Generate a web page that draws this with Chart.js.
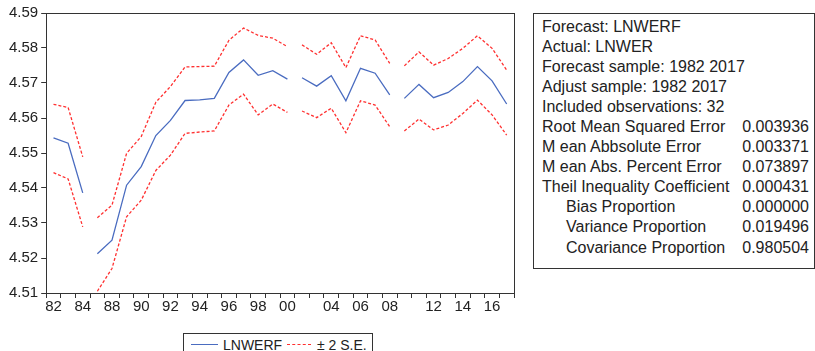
<!DOCTYPE html>
<html lang="en">
<head>
<meta charset="UTF-8">
<title>LNWERF forecast</title>
<style>
  body {
    margin: 0;
    background: #fff;
    font-family: Arial, "Liberation Sans", sans-serif;
    color: #222;
  }
  #wrap {
    position: absolute;
    left: 0;
    top: 0;
    width: 525px;
    height: 325px;
  }
  #stats {
    position: absolute;
    left: 533px;
    top: 13px;
    width: 282px;
    height: 256px;
    box-sizing: border-box;
    border: 1px solid #333;
    padding: 2.5px 5px 0 8px;
    font-size: 16px;
  }
  #stats table { border-collapse: collapse; width: 100%; }
  #stats td { padding: 0; line-height: 20.1px; white-space: nowrap; }
  #stats td.v { text-align: right; }
  #stats td.ind { padding-left: 24px; }
  #legend {
    position: absolute;
    left: 183px;
    top: 333px;
    width: 190px;
    height: 30px;
    box-sizing: border-box;
    border: 1px solid #333;
    font-size: 14px;
  }
  #legend span { position: absolute; top: 3px; white-space: nowrap; }
  #legend i { position: absolute; top: 10px; height: 0; }
</style>
</head>
<body>
<div id="wrap"><canvas id="myChart"></canvas></div>

<div id="stats">
  <table>
    <tr><td colspan="2">Forecast: LNWERF</td></tr>
    <tr><td colspan="2">Actual: LNWER</td></tr>
    <tr><td colspan="2">Forecast sample: 1982 2017</td></tr>
    <tr><td colspan="2">Adjust sample: 1982 2017</td></tr>
    <tr><td colspan="2">Included observations: 32</td></tr>
    <tr><td>Root Mean Squared Error</td><td class="v">0.003936</td></tr>
    <tr><td>M ean Abbsolute Error</td><td class="v">0.003371</td></tr>
    <tr><td>M ean Abs. Percent Error</td><td class="v">0.073897</td></tr>
    <tr><td>Theil Inequality Coefficient</td><td class="v">0.000431</td></tr>
    <tr><td class="ind">Bias Proportion</td><td class="v">0.000000</td></tr>
    <tr><td class="ind">Variance Proportion</td><td class="v">0.019496</td></tr>
    <tr><td class="ind">Covariance Proportion</td><td class="v">0.980504</td></tr>
  </table>
</div>

<div id="legend">
  <i style="left:7px;width:27px;border-top:1.3px solid #4a6cc0;"></i>
  <span style="left:39px;">LNWERF</span>
  <i style="left:103px;width:24px;border-top:1.3px dashed #ff3030;"></i>
  <span style="left:133px;">&plusmn; 2 S.E.</span>
</div>

<script src="https://cdn.jsdelivr.net/npm/chart.js"></script>
<script>
// observations included in the graph (1985, 1986, 2001, 2009 are absent)
const years = [1982, 1983, 1984, 1987, 1988, 1989, 1990, 1991, 1992, 1993, 1994,
               1995, 1996, 1997, 1998, 1999, 2000, 2002, 2003, 2004, 2005, 2006,
               2007, 2008, 2010, 2011, 2012, 2013, 2014, 2015, 2016, 2017];

const forecast = [4.5543, 4.5528, 4.5386, 4.5212, 4.5251, 4.5408, 4.5461, 4.5550,
                  4.5593, 4.5650, 4.5652, 4.5656, 4.5730, 4.5766, 4.5722, 4.5735,
                  4.5711, 4.5715, 4.5691, 4.5721, 4.5649, 4.5742, 4.5728, 4.5666,
                  4.5656, 4.5696, 4.5658, 4.5673, 4.5704, 4.5747, 4.5706, 4.5640];

const upper = [4.5639, 4.5630, 4.5489, 4.5315, 4.5351, 4.5499, 4.5547, 4.5645,
               4.5690, 4.5746, 4.5747, 4.5748, 4.5822, 4.5857, 4.5836, 4.5828,
               4.5804, 4.5809, 4.5782, 4.5815, 4.5744, 4.5835, 4.5823, 4.5756,
               4.5749, 4.5789, 4.5751, 4.5770, 4.5799, 4.5835, 4.5799, 4.5737];

const lower = [4.5444, 4.5426, 4.5289, 4.5105, 4.5170, 4.5318, 4.5365, 4.5450,
               4.5494, 4.5556, 4.5560, 4.5563, 4.5637, 4.5668, 4.5609, 4.5640,
               4.5616, 4.5620, 4.5601, 4.5628, 4.5558, 4.5649, 4.5637, 4.5575,
               4.5563, 4.5597, 4.5566, 4.5580, 4.5613, 4.5651, 4.5609, 4.5551];

// years that get a label under the x axis
const labelYears = [1982, 1984, 1988, 1990, 1992, 1994, 1996, 1998, 2000,
                    2004, 2006, 2008, 2012, 2014, 2016];

const yTicks = [4.51, 4.52, 4.53, 4.54, 4.55, 4.56, 4.57, 4.58, 4.59];

// each observation sits in the middle of its slot; a null breaks the line
// wherever years are missing
function toPoints(values) {
    const pts = [];
    years.forEach((yr, i) => {
        if (i > 0 && yr - years[i - 1] > 1) {
            pts.push({ x: i, y: null });
        }
        pts.push({ x: i + 0.5, y: values[i] });
    });
    return pts;
}

const frame = {
    id: 'frame',
    afterDraw(chart) {
        const a = chart.chartArea;
        const ctx = chart.ctx;
        ctx.save();
        ctx.strokeStyle = '#333';
        ctx.lineWidth = 1;
        ctx.strokeRect(Math.round(a.left) + 0.5, Math.round(a.top) + 0.5,
                       Math.round(a.right - a.left), Math.round(a.bottom - a.top));
        ctx.restore();
    }
};

const font = { family: 'Arial, "Liberation Sans", sans-serif', size: 15 };

const ctx = document.getElementById('myChart').getContext('2d');
new Chart(ctx, {
    type: 'line',
    data: {
        datasets: [
            {
                label: 'LNWERF',
                data: toPoints(forecast),
                borderColor: '#4a6cc0',
                borderWidth: 1.3,
                pointRadius: 0,
                spanGaps: false
            },
            {
                label: '± 2 S.E.',
                data: toPoints(upper),
                borderColor: '#ff3030',
                borderWidth: 1.3,
                borderDash: [3, 2],
                pointRadius: 0,
                spanGaps: false
            },
            {
                label: 'lower',
                data: toPoints(lower),
                borderColor: '#ff3030',
                borderWidth: 1.3,
                borderDash: [3, 2],
                pointRadius: 0,
                spanGaps: false
            }
        ]
    },
    options: {
        responsive: true,
        maintainAspectRatio: false,
        animation: false,
        layout: { padding: { left: 6, right: 11, top: 13, bottom: 9 } },
        plugins: {
            legend: { display: false },
            tooltip: { enabled: false }
        },
        scales: {
            x: {
                type: 'linear',
                min: 0,
                max: years.length,
                afterBuildTicks: scale => {
                    const t = [];
                    for (let v = 0; v <= years.length * 2; v++) t.push({ value: v / 2 });
                    scale.ticks = t;
                },
                ticks: {
                    autoSkip: false,
                    maxRotation: 0,
                    padding: 0,
                    color: '#222',
                    font: font,
                    callback: value => {
                        if (Number.isInteger(value)) return '';
                        const yr = years[value - 0.5];
                        return labelYears.includes(yr) ? String(yr % 100).padStart(2, '0') : '';
                    }
                },
                grid: {
                    drawOnChartArea: false,
                    tickLength: 5,
                    tickColor: c => Number.isInteger(c.tick.value) ? '#333' : 'rgba(0,0,0,0)'
                },
                border: { color: '#333' }
            },
            y: {
                min: 4.51,
                max: 4.59,
                afterBuildTicks: scale => {
                    scale.ticks = yTicks.map(v => ({ value: v }));
                },
                ticks: {
                    padding: 3,
                    color: '#222',
                    font: font,
                    callback: value => value.toFixed(2)
                },
                grid: {
                    drawOnChartArea: false,
                    tickLength: 5,
                    tickColor: '#333'
                },
                border: { color: '#333' }
            }
        }
    },
    plugins: [frame]
});
</script>
</body>
</html>
